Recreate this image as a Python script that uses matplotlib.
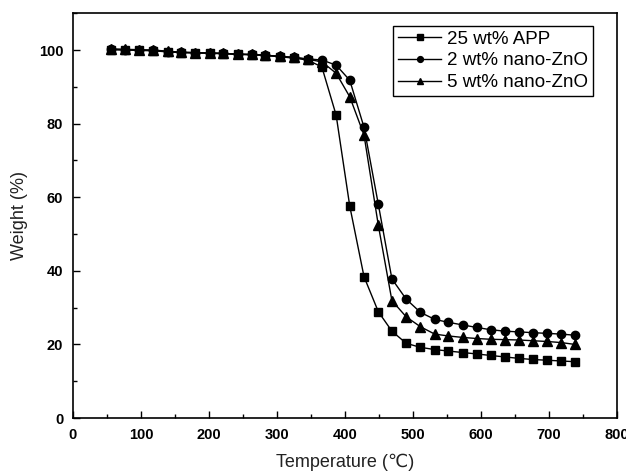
import matplotlib
matplotlib.use("Agg")
import matplotlib.pyplot as plt
from matplotlib.ticker import MultipleLocator

plt.rcParams['font.family'] = ['Liberation Sans', 'DejaVu Sans']

# TGA curves, weight (%) vs temperature (C)
temperature = [56, 77, 97, 118, 139, 159, 180, 201, 221, 242, 263, 283,
               304, 325, 345, 366, 387, 407, 428, 449, 469, 490, 511, 532,
               552, 573, 594, 614, 635, 656, 676, 697, 718, 738]

app_25 = [100.1, 100.0, 99.9, 99.8, 99.5, 99.3, 99.2, 99.1, 99.0, 98.8,
          98.7, 98.5, 98.2, 97.8, 97.3, 95.4, 82.3, 57.6, 38.4, 28.9,
          23.6, 20.3, 19.2, 18.6, 18.2, 17.8, 17.4, 17.0, 16.6, 16.2,
          15.9, 15.7, 15.5, 15.3]

zno_2 = [100.2, 100.1, 100.0, 99.9, 99.6, 99.4, 99.3, 99.2, 99.1, 98.9,
         98.8, 98.6, 98.3, 98.0, 97.6, 97.3, 95.9, 91.8, 79.0, 58.1,
         37.8, 32.3, 28.7, 26.8, 26.0, 25.3, 24.6, 24.0, 23.6, 23.4,
         23.2, 23.0, 22.8, 22.5]

zno_5 = [100.3, 100.2, 100.1, 100.0, 99.7, 99.4, 99.3, 99.2, 99.1, 98.9,
         98.8, 98.6, 98.3, 98.0, 97.5, 96.8, 93.7, 87.3, 76.9, 52.4,
         31.9, 27.5, 24.8, 22.8, 22.3, 21.9, 21.6, 21.4, 21.3, 21.2,
         21.0, 20.8, 20.5, 20.0]

labels = ['25 wt% APP', '2 wt% nano-ZnO', '5 wt% nano-ZnO']

fig = plt.figure(figsize=(6.26, 4.72), dpi=100)
ax = fig.add_axes([0.1166, 0.1144, 0.8690, 0.8575])

ax.plot(temperature, app_25, color='black', lw=1.0, marker='s', ms=6, label=labels[0])
ax.plot(temperature, zno_2, color='black', lw=1.0, marker='o', ms=6, label=labels[1])
ax.plot(temperature, zno_5, color='black', lw=1.0, marker='^', ms=7, label=labels[2])

ax.set_xlim(0, 800)
ax.set_ylim(0, 110)
ax.xaxis.set_major_locator(MultipleLocator(100))
ax.xaxis.set_minor_locator(MultipleLocator(50))
ax.yaxis.set_major_locator(MultipleLocator(20))
ax.yaxis.set_minor_locator(MultipleLocator(10))
ax.tick_params(which='both', direction='in', width=1.0)
ax.tick_params(which='major', length=5, pad=7)
ax.tick_params(which='minor', length=3)
for lbl in ax.get_xticklabels() + ax.get_yticklabels():
    lbl.set_fontsize(10.5)
    lbl.set_fontweight('bold')
for sp in ax.spines.values():
    sp.set_linewidth(1.2)

ax.set_xlabel('Temperature (℃)', fontsize=13, color='#222222', labelpad=8.5)
ax.set_ylabel('Weight (%)', fontsize=13, color='#222222', labelpad=8)

leg = ax.legend(loc='upper right', bbox_to_anchor=(0.955, 0.969), borderaxespad=0,
                fontsize=13.5, fancybox=False, edgecolor='black', framealpha=1,
                markerscale=0.7, handlelength=2.3, handletextpad=0.3,
                borderpad=0.25, labelspacing=0.25)
leg.get_frame().set_linewidth(1.0)

fig.savefig('out.png', dpi=100)
